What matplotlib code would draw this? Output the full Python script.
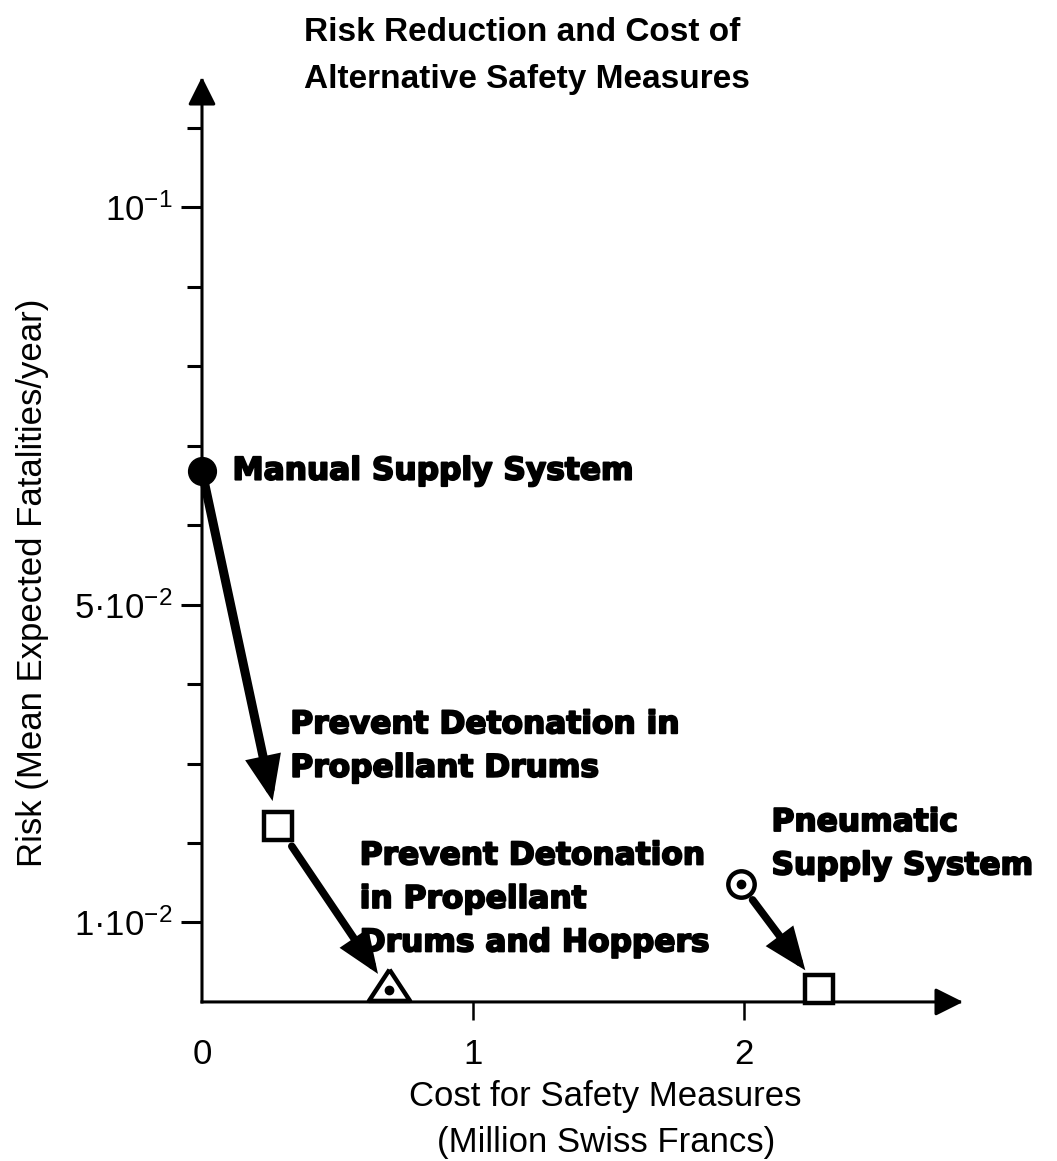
import numpy as np
import matplotlib.pyplot as plt
import matplotlib.patheffects as pe

plt.rcParams['font.family'] = ['Liberation Sans', 'DejaVu Sans']
plt.rcParams['mathtext.fontset'] = 'custom'
plt.rcParams['mathtext.rm'] = 'Liberation Sans'
plt.rcParams['mathtext.it'] = 'Liberation Sans:italic'

# Safety options: cost (million CHF) vs. risk (expected fatalities per year)
measures = [
    "Manual Supply System",
    "Prevent Detonation in\nPropellant Drums",
    "Prevent Detonation\nin Propellant\nDrums and Hoppers",
    "Pneumatic\nSupply System",
    "",
]
cost = [0.0, 0.28, 0.69, 1.99, 2.28]
risk = [0.0668, 0.0222, 0.0015, 0.0148, 0.0016]

# which option leads to which (index pairs)
steps = [(0, 1), (1, 2), (3, 4)]

y_ticks = [0.01, 0.05, 0.10]
y_ticklabels = [r"1·$10^{-2}$", r"5·$10^{-2}$", r"$10^{-1}$"]
x_ticks = [0, 1, 2]
x_ticklabels = ["0", "1", "2"]

# marker looks, one per option
tri = [(0, 2), (-1.97, -1), (1.97, -1), (0, 2)]
marker_style = [
    dict(marker='o', ms=20, mfc='k', mec='k', mew=1),
    dict(marker='s', ms=20, mfc='w', mec='k', mew=3.2),
    dict(marker=tri, ms=30, mfc='w', mec='k', mew=3.2),
    dict(marker='o', ms=19, mfc='w', mec='k', mew=3.2),
    dict(marker='s', ms=20, mfc='w', mec='k', mew=3.2),
]
center_dot = [False, False, True, True, False]

# label offsets (points) relative to each marker
label_offset = [(22, 0), (9, 83), (-21, 107), (22, 55), (0, 0)]
label_va = ['center', 'top', 'top', 'top', 'top']

# arrow gaps at start/end (points) and shaft widths
arrow_shrink = [(8, 18), (18, 14), (14, 17)]
arrow_lw = [6.5, 5.5, 5.5]

fig = plt.figure(figsize=(10.57, 11.61), dpi=100)
ax = fig.add_axes([0.1911, 0.137, 0.72, 0.7967])
ax.set_xlim(0, 2.81)
ax.set_ylim(0, 0.1164)
for s in ax.spines.values():
    s.set_visible(False)
ax.patch.set_alpha(0)

# axes drawn as arrows
axis_arrow = dict(arrowstyle='-|>,head_length=1.0,head_width=0.5', mutation_scale=17,
                  lw=2.2, color='k', shrinkA=0, shrinkB=0, capstyle='projecting')
ax.annotate('', xy=(0, 1), xytext=(0, 0), xycoords='axes fraction', arrowprops=axis_arrow)
ax.annotate('', xy=(1, 0), xytext=(0, 0), xycoords='axes fraction', arrowprops=axis_arrow)

ax.set_xticks(x_ticks, x_ticklabels)
ax.tick_params(axis='x', direction='out', length=13, width=1.8, pad=13, labelsize=25)
ax.xaxis.get_major_ticks()[0].tick1line.set_visible(False)

ax.set_yticks(y_ticks, y_ticklabels)
ax.set_yticks(np.arange(0.01, 0.111, 0.01), minor=True)
ax.tick_params(axis='y', which='major', direction='out', length=15, width=2.2, pad=6, labelsize=25)
ax.tick_params(axis='y', which='minor', direction='out', length=11, width=2.2)

# arrows between options
for (i, j), (sa, sb), lw in zip(steps, arrow_shrink, arrow_lw):
    ax.annotate('', xy=(cost[j], risk[j]), xytext=(cost[i], risk[i]),
                arrowprops=dict(arrowstyle='-|>,head_length=0.95,head_width=0.38',
                                mutation_scale=22, lw=lw, color='k',
                                shrinkA=sa, shrinkB=sb, joinstyle='miter'),
                zorder=3)

# markers and labels
for k in range(len(cost)):
    ax.plot(cost[k], risk[k], linestyle='none', clip_on=False, zorder=5, **marker_style[k])
    if center_dot[k]:
        ax.plot(cost[k], risk[k], 'o', ms=6, color='k', clip_on=False, zorder=6)
    if measures[k]:
        ax.annotate(measures[k], xy=(cost[k], risk[k]), xytext=label_offset[k],
                    textcoords='offset points', ha='left', va=label_va[k],
                    fontsize=22.5, fontweight='bold', family='DejaVu Sans',
                    linespacing=1.63,
                    path_effects=[pe.withStroke(linewidth=1.4, foreground='k')])

fig.text(0.2876, 1 - 17 / 1161, "Risk Reduction and Cost of\nAlternative Safety Measures",
         ha='left', va='top', fontsize=24, fontweight='bold', linespacing=1.65)
fig.text(0.031, 0.498, "Risk (Mean Expected Fatalities/year)", rotation=90,
         ha='center', va='center', fontsize=25)
fig.text(0.573, 0.036, "Cost for Safety Measures\n(Million Swiss Francs)",
         ha='center', va='center', fontsize=25, linespacing=1.5)

fig.savefig('out.png', dpi=100)
